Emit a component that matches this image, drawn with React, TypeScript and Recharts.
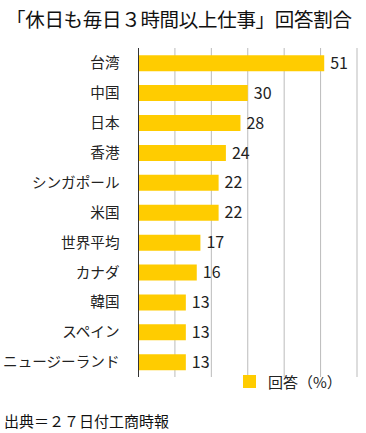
import React from 'react';
import { BarChart, Bar, XAxis, YAxis, CartesianGrid, LabelList, Legend } from 'recharts';

const categories = ['台湾', '中国', '日本', '香港', 'シンガポール', '米国', '世界平均', 'カナダ', '韓国', 'スペイン', 'ニュージーランド'];
const values = [51, 30, 28, 24, 22, 22, 17, 16, 13, 13, 13];
const xTicks = [0, 10, 20, 30, 40, 50, 60];

const seriesName = '回答（%）';
const title = '「休日も毎日３時間以上仕事」回答割合';
const source = '出典＝２７日付工商時報';

const FONT = '"Noto Sans CJK JP", "Noto Sans", sans-serif';
const BAR_COLOR = '#FFCC00';

const data = categories.map((name, i) => ({ name, value: values[i] }));

// legend sits inside the plot, bottom right
const LegendBox = () => (
  <div style={{ display: 'flex', alignItems: 'center', fontFamily: FONT, fontSize: 15, color: '#222' }}>
    <span style={{ width: 13, height: 13, background: BAR_COLOR, display: 'inline-block', marginRight: 12 }} />
    <span>{seriesName}</span>
  </div>
);

const App: React.FC = () => {
  return (
    <div style={{ position: 'absolute', left: 0, top: 0, width: 366, height: 433, background: '#fff', fontFamily: FONT }}>
      <div style={{ position: 'absolute', left: 6, top: 6, fontSize: 19.5, lineHeight: '26px', color: '#111', whiteSpace: 'nowrap', letterSpacing: -0.3 }}>
        {title}
      </div>
      <BarChart
        width={366}
        height={433}
        data={data}
        layout="vertical"
        margin={{ top: 48, right: 9, bottom: 35, left: 0 }}
        barCategoryGap="24%"
      >
        <CartesianGrid horizontal={false} stroke="#bbbbbb" />
        <XAxis type="number" domain={[0, 60]} ticks={xTicks} hide />
        <YAxis
          type="category"
          dataKey="name"
          width={138.5}
          axisLine={{ stroke: '#333' }}
          tickLine={false}
          tickSize={0}
          tickMargin={19}
          tick={{ fontSize: 14.6, fill: '#222', fontFamily: FONT }}
          interval={0}
        />
        <Legend
          content={<LegendBox />}
          wrapperStyle={{ left: 243, top: 371, width: 120 }}
        />
        <Bar dataKey="value" name={seriesName} fill={BAR_COLOR} isAnimationActive={false}>
          <LabelList dataKey="value" position="right" offset={6} style={{ fontSize: 16, fill: '#222', fontFamily: FONT }} />
        </Bar>
      </BarChart>
      <div style={{ position: 'absolute', left: 4, top: 410, fontSize: 15, lineHeight: '22px', color: '#111', whiteSpace: 'nowrap' }}>
        {source}
      </div>
    </div>
  );
};

export default App;
